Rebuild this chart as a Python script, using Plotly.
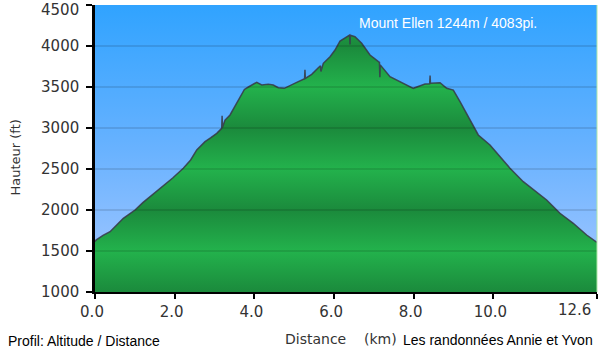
import plotly.graph_objects as go

# Elevation profile (km, ft)
distance_km = [0.000, 0.025, 0.20, 0.377, 0.55, 0.710, 0.86, 1.004, 1.20, 1.380, 1.55, 1.714,
               1.95, 2.216, 2.40, 2.553, 2.761, 2.90, 3.055, 3.180, 3.19, 3.20, 3.263, 3.389,
               3.597, 3.75, 3.85, 3.933, 4.059, 4.184, 4.350, 4.475, 4.601, 4.751, 4.937,
               5.063, 5.26, 5.27, 5.28, 5.439, 5.605, 5.66, 5.67, 5.730, 5.899, 6.024, 6.150,
               6.275, 6.39, 6.40, 6.41, 6.526, 6.694, 6.903, 7.14, 7.15, 7.16, 7.405, 7.656,
               7.989, 8.13, 8.283, 8.40, 8.41, 8.42, 8.660, 8.828, 8.994, 9.162, 9.413, 9.621,
               9.914, 10.15, 10.416, 10.750, 11.05, 11.337, 11.671, 12.005, 12.341, 12.592, 12.600]
elevation_ft = [1613, 1634, 1690, 1735, 1820, 1899, 1950, 2000, 2090, 2162, 2225, 2284,
                2390, 2508, 2610, 2732, 2833, 2880, 2935, 2996, 3150, 3010, 3097, 3159,
                3341, 3470, 3500, 3524, 3557, 3524, 3533, 3524, 3491, 3484, 3533,
                3557, 3600, 3710, 3606, 3655, 3735, 3760, 3690, 3789, 3869, 3951, 4061,
                4101, 4134, 4020, 4130, 4113, 4033, 3890, 3800, 3620, 3770, 3626, 3565,
                3484, 3510, 3537, 3540, 3640, 3545, 3552, 3484, 3463, 3321, 3098, 2915,
                2793, 2660, 2509, 2345, 2230, 2122, 1960, 1838, 1695, 1613, 1605]

x_ticks = [0, 2, 4, 6, 8, 10, 12.6]
x_tick_labels = ["0.0", "2.0", "4.0", "6.0", "8.0", "10.0", "12.6"]
y_ticks = [1000, 1500, 2000, 2500, 3000, 3500, 4000, 4500]
y_tick_labels = [str(v) for v in y_ticks]
x_range = [0, 12.6]
y_range = [1000, 4500]

DARK_G = "#1b8a3c"
LIGHT_G = "#23b24c"
green_scale = []
for i, t in enumerate(y_ticks):
    pos = (t - y_range[0]) / (y_range[1] - y_range[0])
    green_scale.append([pos, DARK_G if i % 2 == 0 else LIGHT_G])

fig = go.Figure()

# sky background
fig.add_trace(go.Scatter(
    x=x_range, y=[y_range[1], y_range[1]], mode="lines", line=dict(width=0),
    fill="tozeroy",
    fillgradient=dict(type="vertical", start=y_range[0], stop=y_range[1],
                      colorscale=[[0, "#a9c9ff"], [0.5, "#68b2ff"], [1, "#30a3ff"]]),
    hoverinfo="skip", showlegend=False))

# terrain
fig.add_trace(go.Scatter(
    x=distance_km, y=elevation_ft, mode="lines",
    line=dict(color="rgba(55,55,70,0.85)", width=1.5),
    fill="tozeroy",
    fillgradient=dict(type="vertical", start=y_range[0], stop=y_range[1],
                      colorscale=green_scale),
    showlegend=False))

shapes = []
for t in y_ticks[1:-1]:
    shapes.append(dict(type="line", xref="paper", x0=0, x1=1, yref="y", y0=t, y1=t,
                       line=dict(color="rgba(0,0,0,0.22)", width=1), layer="above"))
shapes.append(dict(type="line", xref="paper", x0=1, x1=1, yref="paper", y0=0, y1=1,
                   line=dict(color="#b0e8a8", width=1), layer="above"))

tick_font = dict(family="DejaVu Sans", size=15, color="#333333")

# edge labels placed inside the page, as in the reference
edge_annots = [
    dict(text=x_tick_labels[-1], xref="x", yref="paper", x=x_ticks[-1], y=0,
         xanchor="right", yanchor="middle", xshift=-4, yshift=-18, showarrow=False,
         font=tick_font),
    dict(text=y_tick_labels[-1], xref="paper", yref="y", x=0, y=y_ticks[-1],
         xanchor="right", yanchor="middle", xshift=-14, yshift=-5, showarrow=False,
         font=tick_font),
]

fig.update_layout(
    width=600, height=354,
    margin=dict(l=95, r=3, t=5, b=62),
    paper_bgcolor="white", plot_bgcolor="white",
    shapes=shapes,
    xaxis=dict(range=x_range, tickvals=x_ticks, ticktext=x_tick_labels[:-1] + [""],
               showgrid=False, zeroline=False, showline=True, linecolor="black", linewidth=2,
               ticks="outside", ticklen=5, tickwidth=2, tickcolor="black",
               tickfont=tick_font, ticklabelshift=-3, layer="above traces"),
    yaxis=dict(range=y_range, tickvals=y_ticks, ticktext=y_tick_labels[:-1] + [""],
               showgrid=False, zeroline=False,
               showline=True, linecolor="black", linewidth=2.5,
               ticks="outside", ticklen=6, tickwidth=2, tickcolor="black",
               tickfont=tick_font, ticklabelstandoff=4, layer="above traces"),
    annotations=edge_annots + [
        dict(text="Mount Ellen 1244m / 4083pi.", xref="paper", yref="paper",
             x=0.7026, y=0.939, xanchor="center", yanchor="middle", showarrow=False,
             font=dict(family="Liberation Sans", size=14, color="white")),
        dict(text="Distance\u00a0\u00a0\u00a0\u00a0(km)", xref="paper", yref="paper",
             x=0.491, y=0, yshift=-47, xanchor="center", yanchor="middle", showarrow=False,
             font=dict(family="DejaVu Sans", size=14, color="#333333")),
        dict(text="Hauteur (ft)", xref="paper", yref="paper", textangle=-90,
             x=0, xshift=-79, y=0.4686, xanchor="center", yanchor="middle", showarrow=False,
             font=dict(family="DejaVu Sans", size=13, color="#333333")),
        dict(text="Profil: Altitude / Distance", xref="paper", yref="paper",
             x=0, xshift=-89, y=0, yshift=-49, xanchor="left", yanchor="middle",
             showarrow=False, font=dict(family="Liberation Sans", size=14, color="black")),
        dict(text="Les randonnées Annie et Yvon", xref="paper", yref="paper",
             x=0.6135, xshift=-2, y=0, yshift=-48, xanchor="left", yanchor="middle",
             showarrow=False, font=dict(family="Liberation Sans", size=14, color="black")),
    ],
)

fig.write_html("out.html", config={"displayModeBar": False})
